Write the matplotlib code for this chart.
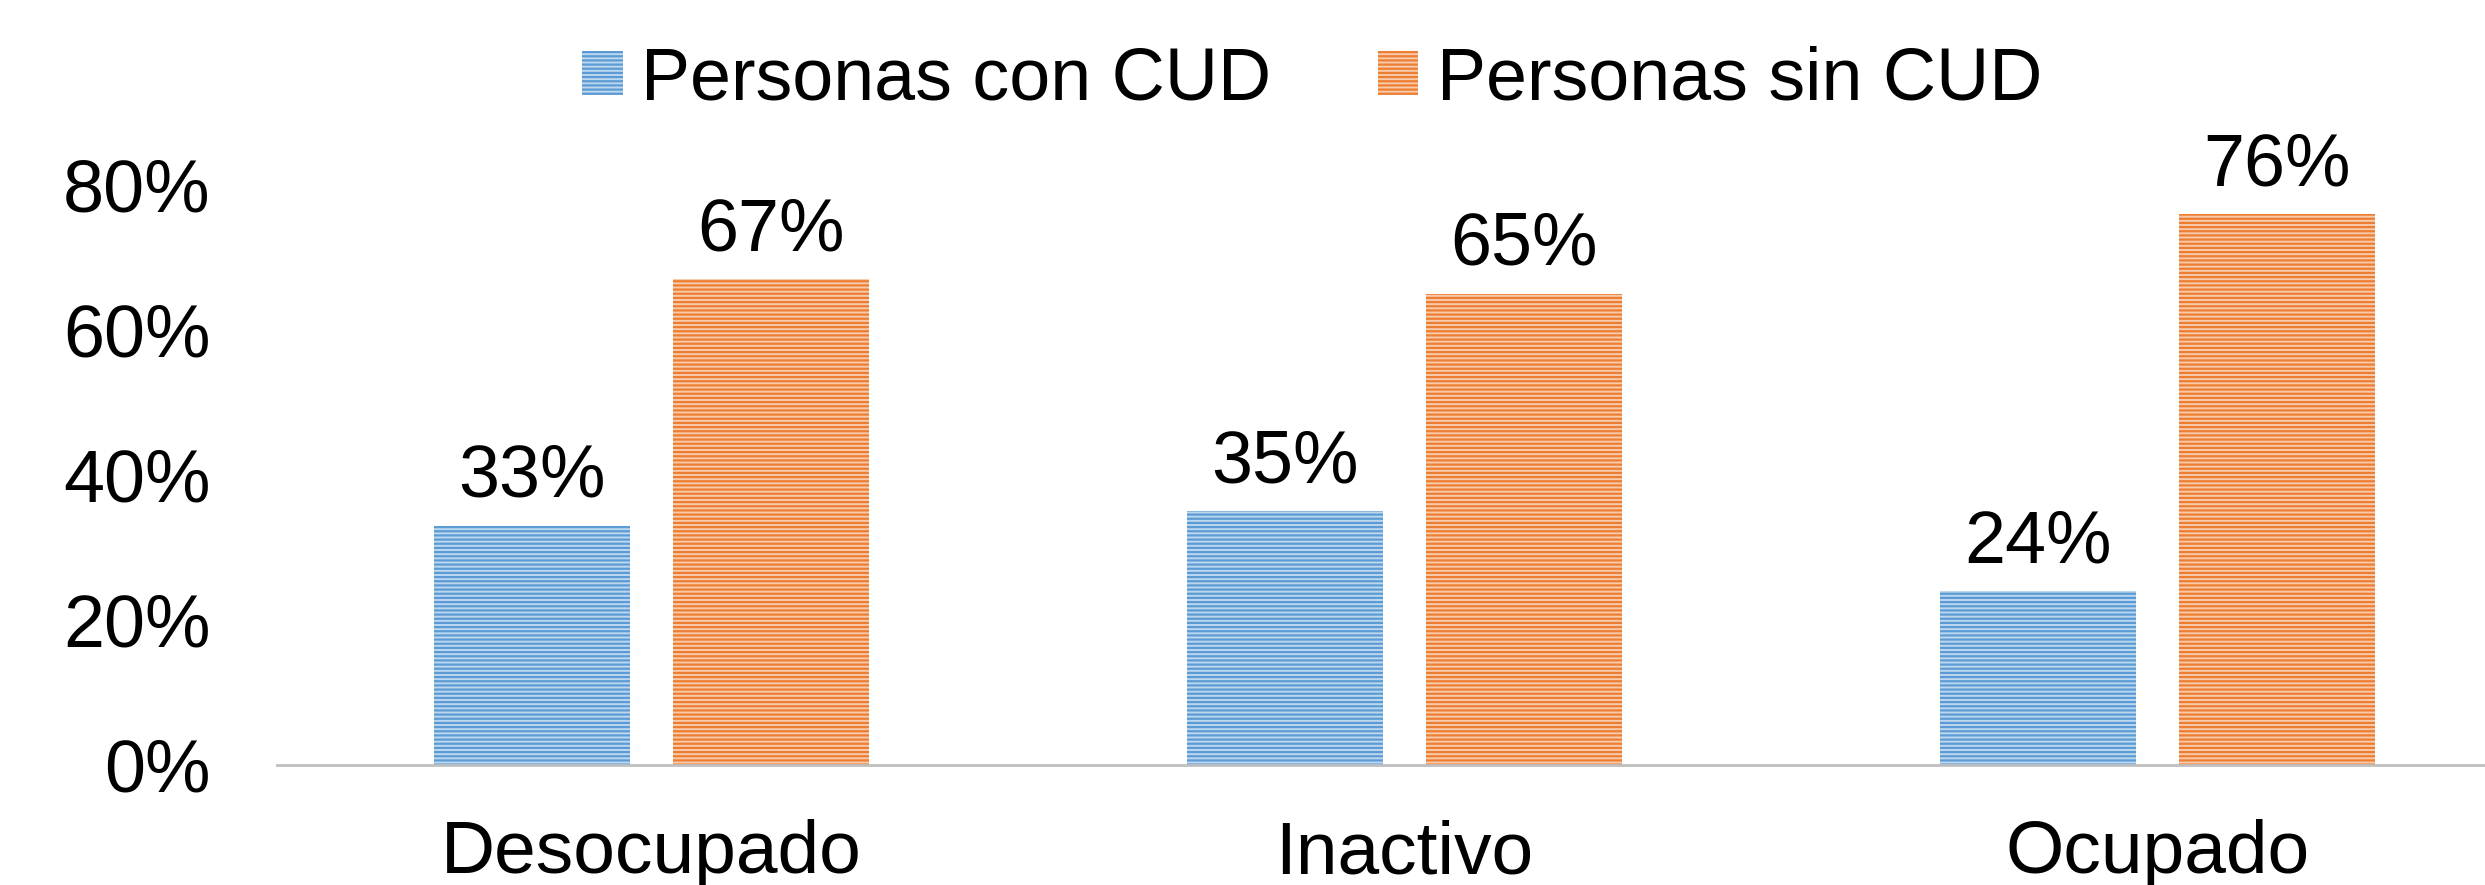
import matplotlib.pyplot as plt
import numpy as np

plt.rcParams['font.family'] = ['Liberation Sans', 'DejaVu Sans']
plt.rcParams['hatch.linewidth'] = 1.6

categories = ['Desocupado', 'Inactivo', 'Ocupado']
con_cud = [33, 35, 24]
sin_cud = [67, 65, 76]
series_names = ['Personas con CUD', 'Personas sin CUD']
yticks = [0, 20, 40, 60, 80]

blue, blue_light = '#5B9BD5', '#BDD7EE'
orange, orange_light = '#ED7D31', '#F8CBAD'

fig = plt.figure(figsize=(24.85, 8.85), dpi=100)
ax = fig.add_axes([0.1115, 0.1356, 0.8885, 0.6554])

x = np.arange(len(categories))
w = 0.26
off = 0.159

b1 = ax.bar(x - off, con_cud, w, facecolor=blue_light, edgecolor=blue,
            linewidth=0, hatch='----', label=series_names[0])
b2 = ax.bar(x + off, sin_cud, w, facecolor=orange_light, edgecolor=orange,
            linewidth=0, hatch='----', label=series_names[1])

for bars, vals in ((b1, con_cud), (b2, sin_cud)):
    for rect, v in zip(bars, vals):
        ax.annotate(f'{v}%', (rect.get_x() + rect.get_width() / 2, v),
                    xytext=(0, 10), textcoords='offset points',
                    ha='center', va='bottom', fontsize=53)

ax.set_xlim(-0.497, 2.435)
ax.set_ylim(0, 80)
ax.set_yticks(yticks)
ax.set_yticklabels([f'{t}%' for t in yticks], fontsize=53)
ax.set_xticks(x)
ax.set_xticklabels(categories, fontsize=54)
ax.tick_params(axis='both', length=0)
ax.tick_params(axis='y', pad=48)
ax.tick_params(axis='x', pad=39)

for s in ('top', 'right', 'left'):
    ax.spines[s].set_visible(False)
ax.spines['bottom'].set_color('#BFBFBF')
ax.spines['bottom'].set_linewidth(2)

fig.legend(loc='center', bbox_to_anchor=(0.528, 0.91), ncol=2, frameon=False,
           fontsize=53, handlelength=0.55, handleheight=0.55,
           handletextpad=0.25, columnspacing=1.45)

fig.savefig('out.png', dpi=100)
